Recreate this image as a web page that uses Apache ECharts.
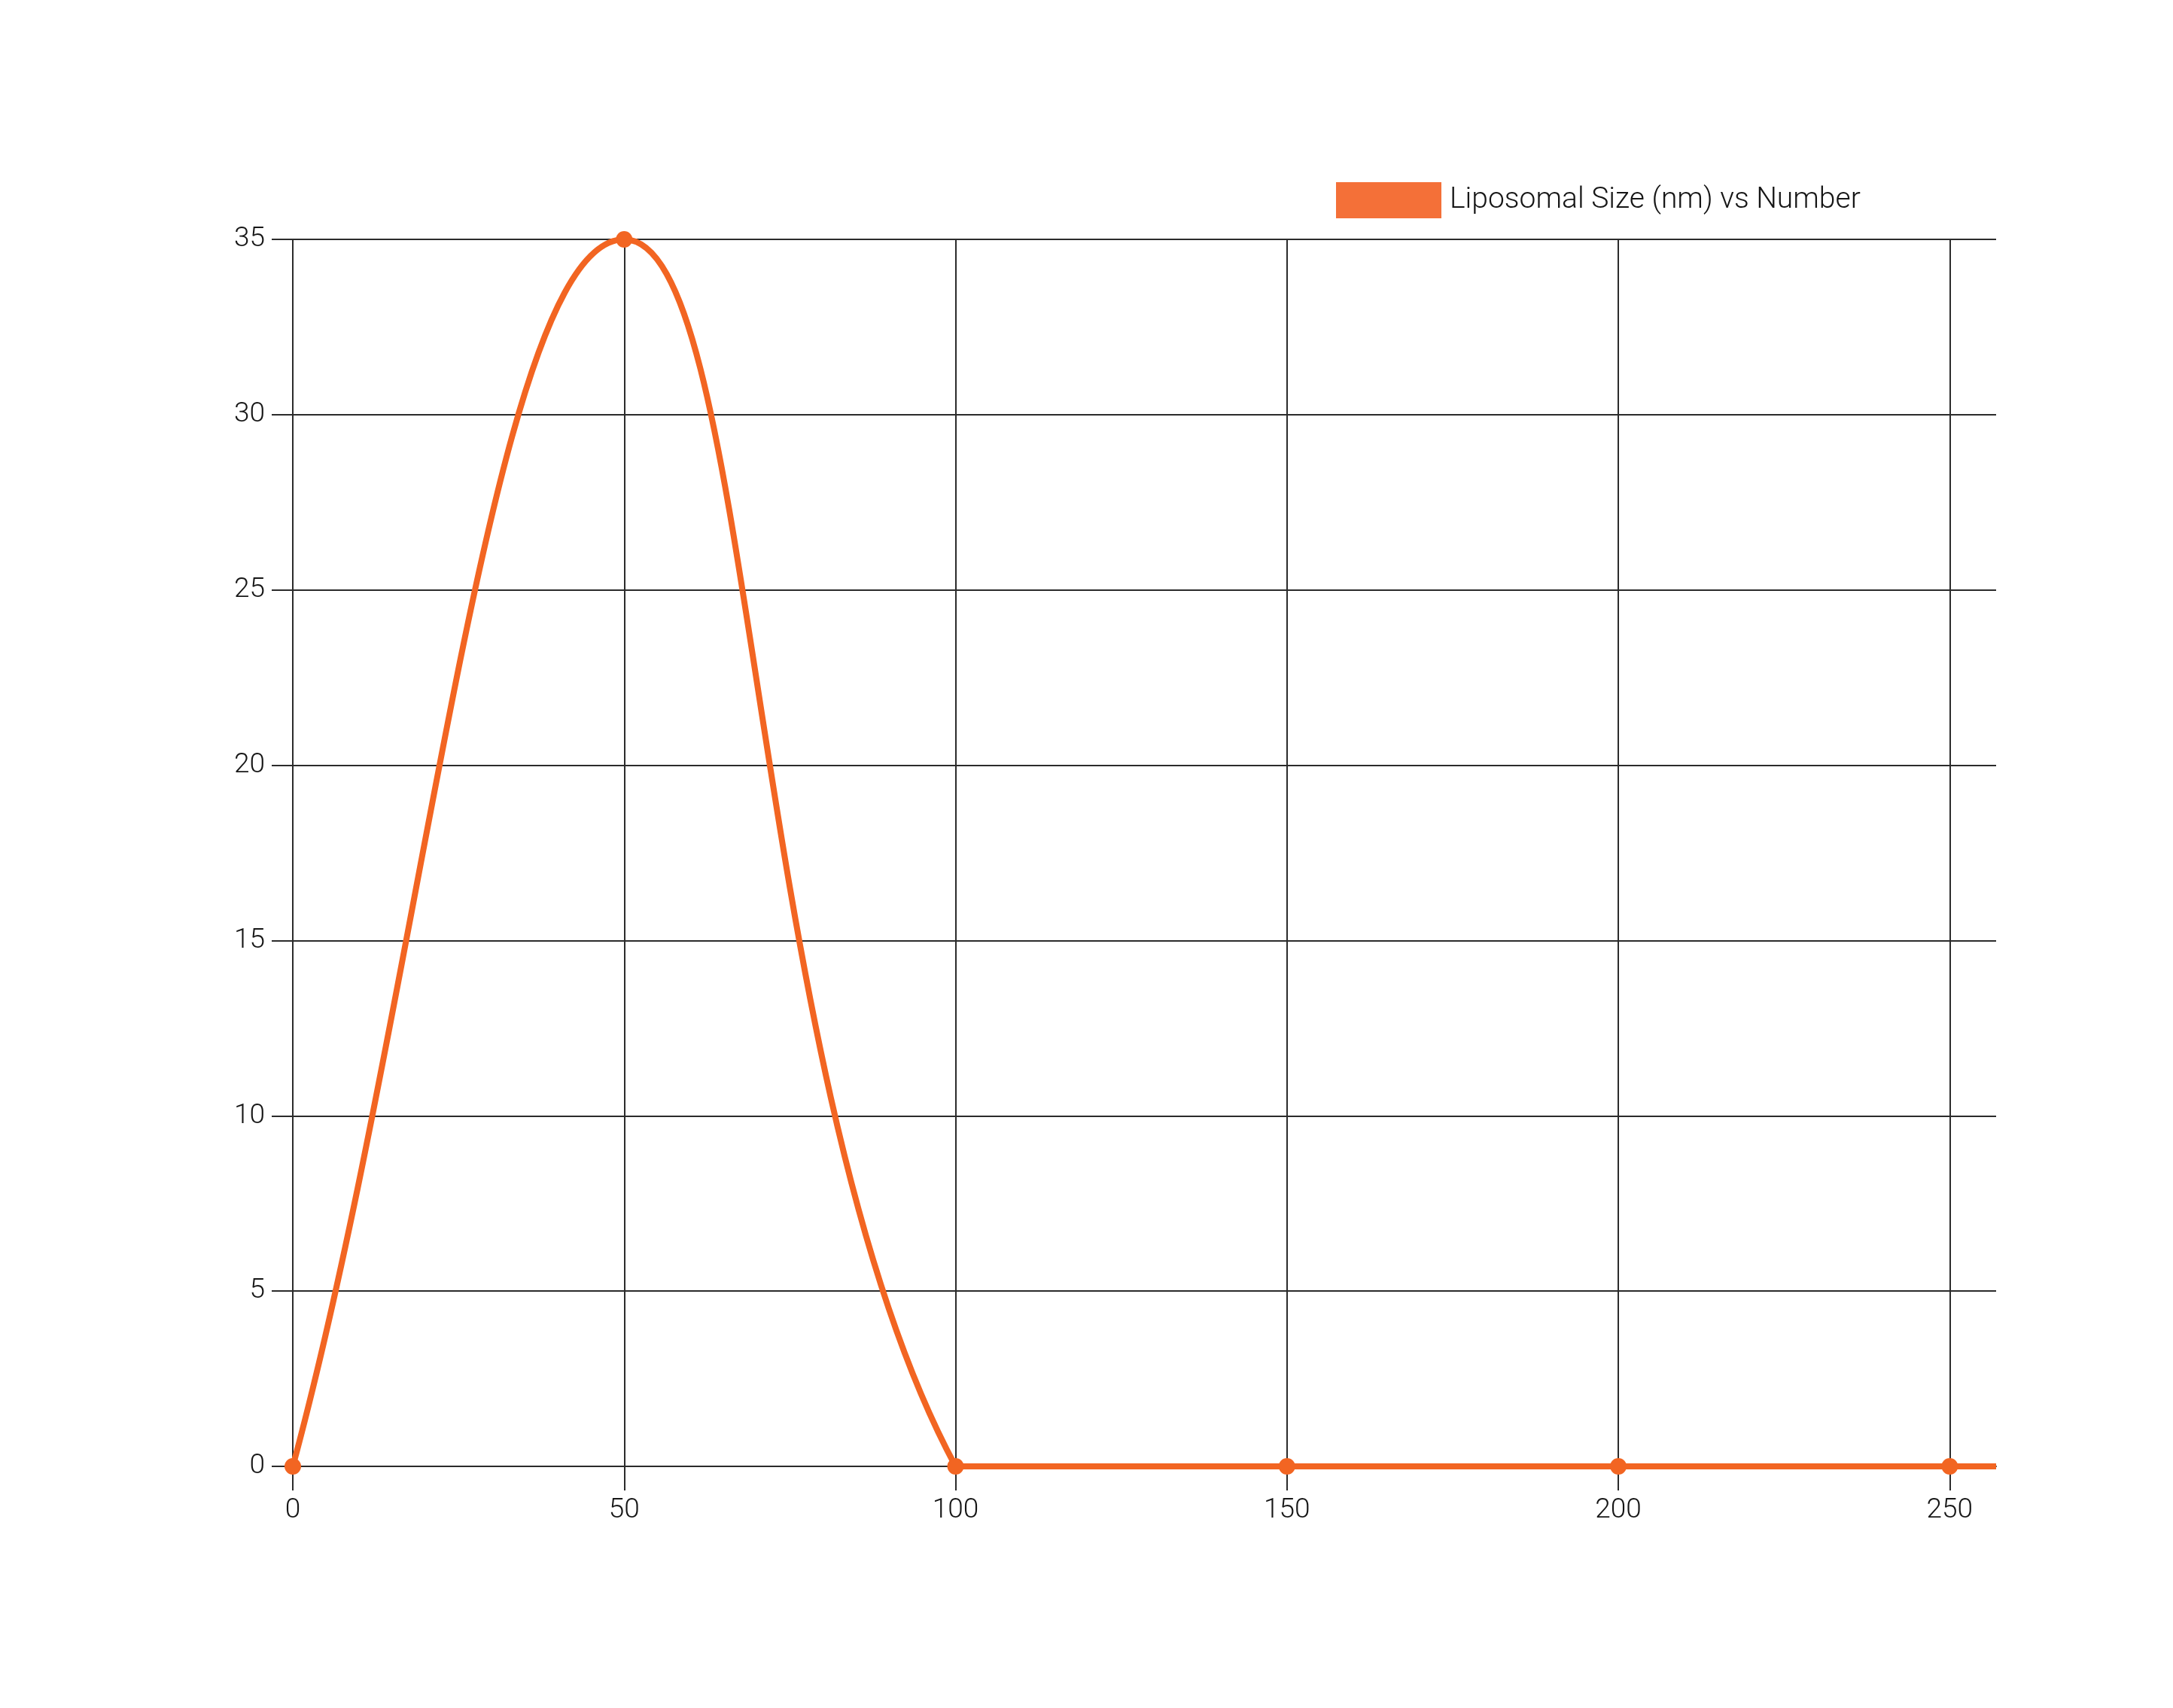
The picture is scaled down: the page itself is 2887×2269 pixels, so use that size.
<!DOCTYPE html>
<html>
<head>
<meta charset="utf-8">
<script src="https://cdn.jsdelivr.net/npm/echarts@6/dist/echarts.min.js"></script>
<style>
  html, body { margin: 0; padding: 0; background: #fff; }
  #chart { width: 2887px; height: 2269px; }
</style>
</head>
<body>
<div id="chart"></div>
<script>
// liposome size (nm) on x, count on y
var sizes = [0, 50, 100, 150, 200, 250, 300]
var numbers = [0, 35, 0, 0, 0, 0, 0]
var xTicks = [0, 50, 100, 150, 200, 250]
var seriesName = 'Liposomal Size (nm) vs Number'

var points = sizes.map(function (s, i) { return [s, numbers[i]] })
var lineColor = '#F26522'
var gridColor = '#2b2b2b'
var textColor = '#161616'
var font = 'Roboto'
var tension = 0.4

// spline control points (cardinal style, tension 0.4) in pixel space
function controlPoints(api, k, area) {
  var n = points.length
  var cur = api.coord(points[k])
  var prev = k > 0 ? api.coord(points[k - 1]) : cur
  var next = k < n - 1 ? api.coord(points[k + 1]) : cur
  var d01 = Math.hypot(cur[0] - prev[0], cur[1] - prev[1])
  var d12 = Math.hypot(next[0] - cur[0], next[1] - cur[1])
  var s01 = d01 / (d01 + d12) || 0
  var s12 = d12 / (d01 + d12) || 0
  var fa = tension * s01
  var fb = tension * s12
  var dx = next[0] - prev[0]
  var dy = next[1] - prev[1]
  function cap(p) {
    return [p[0], Math.max(area.y, Math.min(area.y + area.height, p[1]))]
  }
  return {
    pt: cur,
    before: cap([cur[0] - fa * dx, cur[1] - fa * dy]),
    after: cap([cur[0] + fb * dx, cur[1] + fb * dy]),
  }
}

function renderItem(params, api) {
  var i = params.dataIndex
  var area = params.coordSys
  var children = []
  var a = controlPoints(api, i, area)
  if (i < points.length - 1) {
    var b = controlPoints(api, i + 1, area)
    children.push({
      type: 'bezierCurve',
      shape: {
        x1: a.pt[0], y1: a.pt[1],
        cpx1: a.after[0], cpy1: a.after[1],
        cpx2: b.before[0], cpy2: b.before[1],
        x2: b.pt[0], y2: b.pt[1],
      },
      style: { stroke: lineColor, lineWidth: 8, fill: null, lineCap: 'round' },
      clipPath: {
        type: 'rect',
        shape: { x: area.x - 20, y: area.y - 20, width: area.width + 20, height: area.height + 40 },
      },
    })
  }
  if (a.pt[0] <= area.x + area.width + 1) {
    children.push({
      type: 'circle',
      shape: { cx: a.pt[0], cy: a.pt[1], r: 11 },
      style: { fill: lineColor },
      z2: 10,
    })
  }
  return { type: 'group', children: children }
}

var chart = echarts.init(document.getElementById('chart'))
chart.setOption({
  backgroundColor: '#ffffff',
  animation: false,
  legend: {
    data: [{ name: seriesName, icon: 'rect', itemStyle: { color: '#F47038' } }],
    left: 1770,
    top: 237,
    itemWidth: 140,
    itemHeight: 48,
    itemGap: 10,
    textStyle: { fontFamily: font, fontWeight: 300, fontSize: 39, color: textColor, padding: [0, 0, 0, 6] },
  },
  grid: {
    left: 389,
    right: 235,
    top: 318,
    bottom: 321,
    containLabel: false,
  },
  xAxis: {
    type: 'value',
    min: 0,
    max: 257,
    interval: 50,
    axisLine: { show: true, onZero: false, lineStyle: { color: gridColor, width: 2 } },
    axisTick: { show: true, length: 32, customValues: xTicks, lineStyle: { color: gridColor, width: 2 } },
    axisLabel: { margin: 40, customValues: xTicks, fontFamily: font, fontWeight: 300, fontSize: 37, color: textColor },
    splitLine: { show: true, customValues: xTicks, lineStyle: { color: gridColor, width: 2 } },
  },
  yAxis: {
    type: 'value',
    min: 0,
    max: 35,
    interval: 5,
    axisLine: { show: true, lineStyle: { color: gridColor, width: 2 } },
    axisTick: { show: true, length: 28, lineStyle: { color: gridColor, width: 2 } },
    axisLabel: { margin: 37, fontFamily: font, fontWeight: 300, fontSize: 37, color: textColor },
    splitLine: { show: true, lineStyle: { color: gridColor, width: 2 } },
  },
  series: [
    {
      name: seriesName,
      type: 'custom',
      renderItem: renderItem,
      encode: { x: 0, y: 1 },
      itemStyle: { color: lineColor },
      data: points,
    },
  ],
})
</script>
</body>
</html>
